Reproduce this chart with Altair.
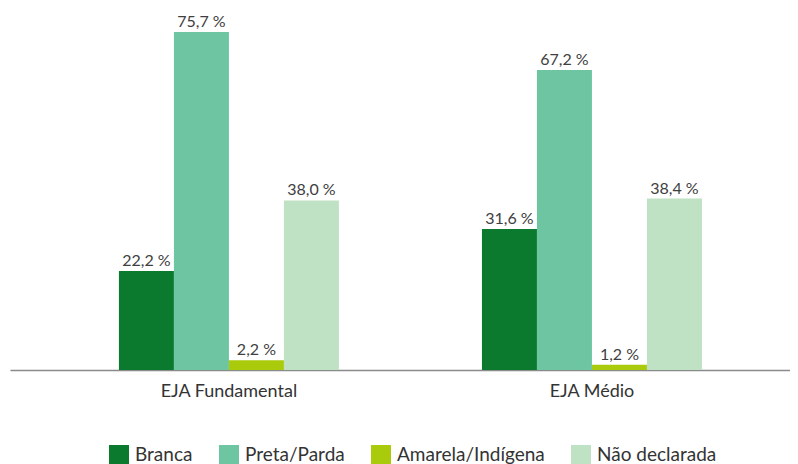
import altair as alt
import pandas as pd

groups = ["EJA Fundamental", "EJA Médio"]
categories = ["Branca", "Preta/Parda", "Amarela/Indígena", "Não declarada"]
fundamental = [22.2, 75.7, 2.2, 38.0]
medio = [31.6, 67.2, 1.2, 38.4]
colors = ["#0B7A2F", "#6DC6A1", "#AACA0C", "#C0E2C4"]

rows = []
for g, vals in zip(groups, [fundamental, medio]):
    for c, v in zip(categories, vals):
        rows.append({"grupo": g, "cat": c, "valor": v})
df = pd.DataFrame(rows)

FONT = "Lato"

base = alt.Chart(df).transform_calculate(
    label="replace(format(datum.valor, '.1f'), '.', ',') + ' %'"
).encode(
    x=alt.X(
        "grupo:N",
        sort=groups,
        scale=alt.Scale(paddingInner=0.394, paddingOuter=0.2713, align=0.553),
        axis=alt.Axis(
            title=None,
            labelAngle=0,
            ticks=False,
            tickSize=0,
            labelFont=FONT,
            labelFontSize=18,
            labelColor="#333333",
            labelBaseline="alphabetic",
            labelPadding=26,
            domainColor="#8A8A8A",
            domainWidth=1.5,
        ),
    ),
    xOffset=alt.XOffset("cat:N", sort=categories, scale=alt.Scale(paddingInner=0, paddingOuter=0)),
    y=alt.Y("valor:Q", scale=alt.Scale(domain=[0, 81.1]), axis=None),
)

bars = base.mark_bar().encode(
    color=alt.Color(
        "cat:N",
        sort=categories,
        scale=alt.Scale(domain=categories, range=colors),
        legend=alt.Legend(
            title=None,
            orient="none",
            legendX=99,
            legendY=437,
            direction="horizontal",
            symbolType="square",
            symbolSize=400,
            symbolStrokeWidth=0,
            symbolOpacity=1,
            labelFont=FONT,
            labelFontSize=19,
            labelColor="#333333",
            labelOffset=6,
            columnPadding=26,
            padding=0,
        ),
    )
)

labels = base.mark_text(
    dy=-5, baseline="alphabetic", font=FONT, fontSize=16, color="#404040"
).encode(text="label:N")

chart = (
    alt.layer(bars, labels)
    .properties(width=780, height=362, padding={"left": 2, "top": 0, "right": 0, "bottom": 0})
    .configure_view(stroke=None)
    .configure_axis(grid=False)
)

chart.save("out.html", embed_options={"renderer": "svg", "actions": False})
